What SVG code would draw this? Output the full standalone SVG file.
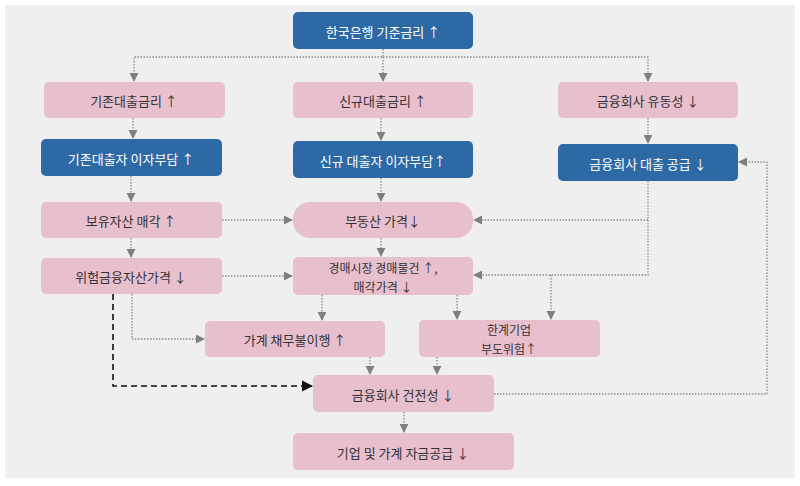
<svg xmlns="http://www.w3.org/2000/svg" width="800" height="486" viewBox="0 0 800 486">
<defs>
<marker id="ah" viewBox="0 0 10 10" refX="9" refY="5" markerWidth="7" markerHeight="7" orient="auto-start-reverse"><path d="M0,0 L10,5 L0,10 z" fill="#7f7f7f"/></marker>
<marker id="ahk" viewBox="0 0 10 10" refX="9" refY="5" markerWidth="7" markerHeight="7" orient="auto"><path d="M0,0 L10,5 L0,10 z" fill="#111"/></marker>
</defs>
<style>
.b{fill:#2d6aa5}.p{fill:#e8bfcd}
text{font-family:"Noto Sans CJK KR","Noto Sans",sans-serif;font-size:13px;text-anchor:middle;dominant-baseline:central;fill:#333}
text.w{fill:#fff}
text.s{font-size:12px}
.c path{fill:none;stroke:#8a8a8a;stroke-width:1.3;stroke-dasharray:1.5 1.5;marker-end:url(#ah)}
.c path.d{stroke:#111;stroke-width:1.6;stroke-dasharray:6 4;marker-end:url(#ahk)}
</style>
<rect x="0" y="0" width="800" height="486" fill="#fff"/>
<rect x="5" y="5" width="790" height="473" fill="#efefef"/>
<g id="n1"><rect class="b" x="293" y="12" width="180" height="37" rx="5"/><text class="w" x="383" y="31">한국은행 기준금리 ↑</text></g>
<g id="n2"><rect class="p" x="44" y="82" width="181" height="36" rx="5"/><text x="134" y="100">기존대출금리 ↑</text></g>
<g id="n3"><rect class="p" x="293" y="82" width="180" height="36" rx="5"/><text x="383" y="100">신규대출금리 ↑</text></g>
<g id="n4"><rect class="p" x="558" y="82" width="180" height="36" rx="5"/><text x="648" y="100">금융회사 유동성 ↓</text></g>
<g id="n5"><rect class="b" x="41" y="139" width="181" height="37" rx="5"/><text class="w" x="131" y="158">기존대출자 이자부담 ↑</text></g>
<g id="n6"><rect class="b" x="293" y="141" width="180" height="37" rx="5"/><text class="w" x="383" y="160">신규 대출자 이자부담↑</text></g>
<g id="n7"><rect class="b" x="558" y="144" width="180" height="37" rx="5"/><text class="w" x="648" y="163">금융회사 대출 공급 ↓</text></g>
<g id="n8"><rect class="p" x="41" y="202" width="181" height="36" rx="5"/><text x="131" y="220">보유자산 매각 ↑</text></g>
<g id="n9"><rect class="p" x="293" y="202" width="180" height="36" rx="17"/><text x="383" y="220">부동산 가격↓</text></g>
<g id="n10"><rect class="p" x="41" y="258" width="181" height="36" rx="5"/><text x="131" y="276">위험금융자산가격 ↓</text></g>
<g id="n11"><rect class="p" x="293" y="257" width="180" height="38" rx="5"/><text class="s" x="383" y="267">경매시장 경매물건 ↑,</text><text class="s" x="383" y="286">매각가격 ↓</text></g>
<g id="n12"><rect class="p" x="205" y="321" width="180" height="36" rx="5"/><text x="295" y="339">가계 채무불이행 ↑</text></g>
<g id="n13"><rect class="p" x="419" y="320" width="181" height="37" rx="5"/><text class="s" x="509" y="329">한계기업</text><text class="s" x="509" y="348">부도위험↑</text></g>
<g id="n14"><rect class="p" x="313" y="375" width="181" height="37" rx="5"/><text x="403" y="394">금융회사 건전성 ↓</text></g>
<g id="n15"><rect class="p" x="293" y="433" width="221" height="37" rx="5"/><text x="403" y="452">기업 및 가계 자금공급 ↓</text></g>
<g class="c" id="connectors">
<path d="M383,49 V57 H134 V81"/>
<path d="M383,57 V81"/>
<path d="M383,57 H648 V81"/>
<path d="M133,118 V138"/>
<path d="M381,118 V140"/>
<path d="M648,118 V143"/>
<path d="M131,176 V201"/>
<path d="M381,178 V201"/>
<path d="M222,220 H292"/>
<path d="M648,181 V220 H474"/>
<path d="M648,220 V275 H474"/>
<path d="M551,275 V319"/>
<path d="M131,238 V257"/>
<path d="M381,238 V256"/>
<path d="M222,276 H292"/>
<path d="M132,294 V339 H204"/>
<path d="M322,295 V320"/>
<path d="M457,295 V319"/>
<path d="M370,357 V374"/>
<path d="M437,357 V374"/>
<path d="M494,394 H767 V162 H739"/>
<path d="M404,412 V432"/>
<path class="d" d="M113,294 V386 H312"/>
</g>
</svg>
